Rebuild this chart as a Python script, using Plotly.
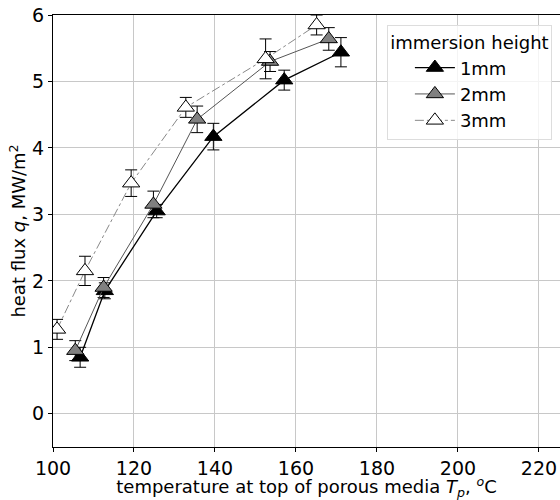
import plotly.graph_objects as go

x_1mm = [106.7, 112.8, 125.6, 139.6, 157.1, 171.1]
q_1mm = [0.85, 1.85, 3.05, 4.17, 5.02, 5.44]
e_1mm = [0.15, 0.12, 0.1, 0.2, 0.15, 0.22]

x_2mm = [105.5, 112.5, 124.8, 135.6, 153.6, 168.1]
q_2mm = [0.95, 1.9, 3.15, 4.43, 5.3, 5.64]
e_2mm = [0.15, 0.15, 0.2, 0.2, 0.15, 0.17]

x_3mm = [101.0, 107.9, 119.3, 132.8, 152.5, 165.1]
q_3mm = [1.27, 2.15, 3.47, 4.61, 5.34, 5.85]
e_3mm = [0.15, 0.22, 0.2, 0.15, 0.3, 0.15]

labels = ["1mm", "2mm", "3mm"]

fig = go.Figure()
series = [
    (x_1mm, q_1mm, e_1mm, "black", dict(color="black", width=1.3, dash="solid")),
    (x_2mm, q_2mm, e_2mm, "gray", dict(color="#555555", width=1, dash="solid")),
    (x_3mm, q_3mm, e_3mm, "white", dict(color="#888888", width=1, dash="dashdot")),
]
for lab, (xs, ys, es, fc, ln) in zip(labels, series):
    fig.add_trace(go.Scatter(
        x=xs, y=ys, name=lab, mode="lines+markers",
        line=ln,
        marker=dict(symbol="triangle-up", size=15, color=fc,
                    line=dict(color="black", width=1)),
        error_y=dict(type="data", array=es, visible=True, color="black",
                     thickness=1, width=6),
    ))

fig.update_layout(
    width=560, height=500,
    margin=dict(l=53, r=0, t=15, b=53),
    paper_bgcolor="white", plot_bgcolor="white",
    font=dict(family="DejaVu Sans", size=18, color="black"),
    showlegend=True,
    legend=dict(
        title=dict(text="immersion height", font=dict(size=18), side="top center"),
        x=0.984, y=0.977, xanchor="right", yanchor="top",
        bgcolor="rgba(255,255,255,0.8)", bordercolor="#dddddd", borderwidth=1,
        font=dict(size=18), itemwidth=40, indentation=22,
    ),
    xaxis=dict(
        range=[100, 225.2], tickvals=[100, 120, 140, 160, 180, 200, 220],
        showgrid=True, gridcolor="#c8c8c8", gridwidth=1,
        showline=True, linecolor="black", linewidth=1, mirror=True,
        ticks="outside", ticklen=4, tickcolor="black", zeroline=False,
        tickfont=dict(size=19), automargin=False, ticklabeloverflow="allow",
        title=dict(text="temperature at top of porous media <i>T</i><sub><i>p</i></sub>, <sup><i>o</i></sup>C",
                   font=dict(size=18), standoff=5),
    ),
    yaxis=dict(
        range=[-0.5, 6], tickvals=[0, 1, 2, 3, 4, 5, 6],
        showgrid=True, gridcolor="#c8c8c8", gridwidth=1,
        showline=True, linecolor="black", linewidth=1, mirror=True,
        ticks="outside", ticklen=4, tickcolor="black", zeroline=False,
        tickfont=dict(size=19), automargin=False, ticklabeloverflow="allow",
        title=dict(text="heat flux <i>q</i>, MW/m<sup>2</sup>", font=dict(size=18), standoff=1),
    ),
)

fig.write_html("out.html", config={"displayModeBar": False},
               post_script="document.body.style.margin='0';")
